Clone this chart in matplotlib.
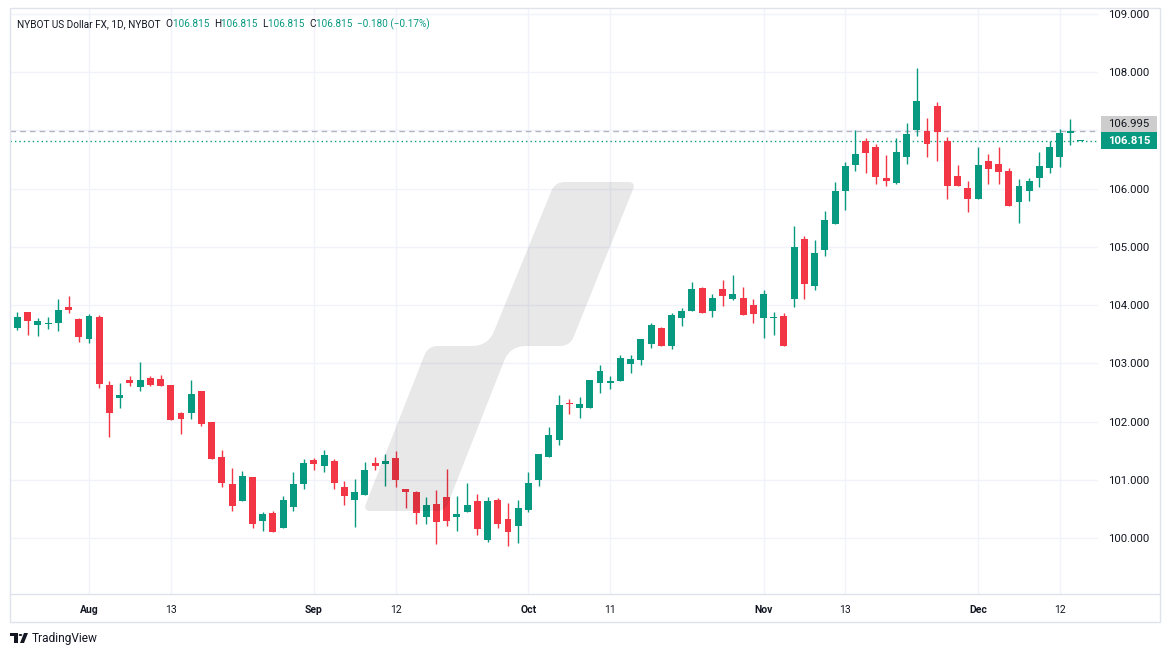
import matplotlib
matplotlib.use("Agg")
import matplotlib.pyplot as plt
import numpy as np
import pandas as pd
from matplotlib.patches import Polygon, Rectangle, Circle
from matplotlib.lines import Line2D

plt.rcParams['font.family'] = ['Roboto', 'DejaVu Sans']

# daily bars, NYBOT US Dollar FX
dates = pd.bdate_range('2024-07-22', '2024-12-16')
opens = [103.54, 103.61, 103.88, 103.66, 103.67, 103.70, 103.97, 103.76, 103.41, 103.79,
         102.63, 102.41, 102.71, 102.60, 102.75, 102.73, 102.63, 102.14, 102.15, 102.52,
         101.99, 101.39, 100.92, 100.63, 101.04, 100.29, 100.43, 100.17, 100.53, 100.93,
         101.34, 101.24, 101.32, 100.87, 100.65, 100.74, 101.29, 101.28, 101.38, 100.85,
         100.79, 100.37, 100.59, 100.71, 100.37, 100.44, 100.64, 99.96, 100.66, 100.33,
         100.20, 100.48, 100.99, 101.39, 101.69, 102.31, 102.23, 102.23, 102.66, 102.67,
         102.70, 102.99, 103.06, 103.33, 103.60, 103.30, 103.78, 103.90, 104.29, 103.89,
         104.27, 104.11, 104.12, 104.00, 103.78, 103.77, 103.81, 104.11, 105.13, 104.33,
         104.95, 105.39, 105.96, 106.40, 106.82, 106.71, 106.19, 106.09, 106.54, 107.00,
         106.98, 107.41, 106.81, 106.21, 106.01, 105.82, 106.47, 106.43, 106.31, 105.77,
         105.96, 106.18, 106.35, 106.54, 106.95, 106.815]
highs = [103.66, 103.88, 103.88, 103.78, 103.79, 104.10, 104.15, 103.78, 103.85, 103.83,
         102.70, 102.66, 102.78, 103.02, 102.78, 102.80, 102.63, 102.16, 102.71, 102.52,
         101.99, 101.51, 101.20, 101.16, 101.04, 100.44, 100.47, 100.72, 101.13, 101.36,
         101.37, 101.51, 101.36, 100.98, 101.01, 101.30, 101.39, 101.44, 101.49, 100.85,
         100.80, 100.70, 100.83, 101.18, 100.73, 100.94, 100.76, 100.71, 100.68, 100.61,
         100.66, 101.14, 101.44, 101.90, 102.45, 102.38, 102.42, 102.71, 102.97, 102.78,
         103.15, 103.15, 103.41, 103.70, 103.62, 103.86, 103.95, 104.39, 104.31, 104.19,
         104.43, 104.51, 104.31, 104.10, 104.26, 103.88, 103.86, 105.36, 105.18, 105.11,
         105.61, 106.11, 106.45, 107.00, 106.86, 106.76, 106.57, 106.86, 107.12, 108.07,
         107.22, 107.48, 106.89, 106.40, 106.13, 106.72, 106.59, 106.71, 106.36, 106.16,
         106.19, 106.62, 106.81, 107.03, 107.19, 106.815]
lows = [103.50, 103.58, 103.49, 103.47, 103.59, 103.56, 103.87, 103.37, 103.35, 102.58,
        101.73, 102.24, 102.61, 102.53, 102.61, 102.61, 102.02, 101.79, 102.04, 101.93,
        101.36, 100.87, 100.46, 100.63, 100.17, 100.13, 100.10, 100.17, 100.47, 100.84,
        101.17, 101.14, 100.84, 100.57, 100.19, 100.74, 101.17, 100.90, 100.87, 100.52,
        100.25, 100.25, 99.89, 100.21, 100.13, 100.44, 100.05, 99.93, 100.18, 99.87,
        99.91, 100.44, 100.90, 101.39, 101.60, 102.13, 102.06, 102.23, 102.49, 102.56,
        102.70, 102.83, 102.97, 103.26, 103.30, 103.25, 103.64, 103.90, 103.87, 103.80,
        103.99, 104.09, 103.83, 103.70, 103.44, 103.49, 103.29, 103.97, 104.11, 104.26,
        104.85, 105.39, 105.63, 106.30, 106.27, 106.08, 106.04, 106.08, 106.42, 106.90,
        106.54, 106.47, 105.82, 106.05, 105.60, 105.82, 106.08, 106.08, 105.70, 105.41,
        105.79, 106.03, 106.27, 106.37, 106.75, 106.815]
closes = [103.64, 103.79, 103.73, 103.73, 103.68, 103.91, 103.92, 103.46, 103.81, 102.65,
          102.15, 102.46, 102.67, 102.71, 102.63, 102.61, 102.03, 102.04, 102.47, 101.96,
          101.36, 100.94, 100.55, 101.06, 100.25, 100.41, 100.10, 100.65, 100.93, 101.29,
          101.27, 101.43, 100.95, 100.72, 100.79, 101.17, 101.24, 101.32, 100.99, 100.79,
          100.43, 100.56, 100.27, 100.30, 100.42, 100.56, 100.15, 100.63, 100.24, 100.10,
          100.52, 100.94, 101.44, 101.77, 102.28, 102.30, 102.31, 102.71, 102.87, 102.69,
          103.09, 103.07, 103.41, 103.65, 103.30, 103.83, 103.90, 104.27, 103.87, 104.12,
          104.16, 104.19, 103.83, 103.85, 104.19, 103.78, 103.30, 104.99, 104.37, 104.89,
          105.46, 105.95, 106.38, 106.60, 106.61, 106.20, 106.13, 106.62, 106.93, 107.51,
          106.76, 106.97, 106.05, 106.05, 105.82, 106.41, 106.34, 106.28, 105.70, 106.04,
          106.13, 106.38, 106.71, 106.96, 106.995, 106.815]
prev_close = 106.995
last_price = 106.815
tick_dates = ['2024-08-01', '2024-08-13', '2024-09-02', '2024-09-12', '2024-10-01',
              '2024-10-11', '2024-11-01', '2024-11-13', '2024-12-02', '2024-12-12']
tick_labels = ['Aug', '13', 'Sep', '12', 'Oct', '11', 'Nov', '13', 'Dec', '12']
price_ticks = [100, 101, 102, 103, 104, 105, 106, 107, 108, 109]

GREEN = '#089981'
RED = '#f23645'
TXT = '#131722'
GRID = '#f0f3fa'
BORDER = '#e0e3eb'

W, H = 1171, 657
def fx(px):
    return px / W
def fy(py):
    return 1 - py / H

fig = plt.figure(figsize=(W / 100, H / 100), dpi=100)
ax = fig.add_axes([fx(10), fy(594), fx(1098) - fx(10), fy(8) - fy(594)])

o = np.array(opens); hi = np.array(highs); lo = np.array(lows); c = np.array(closes)
x = np.arange(len(o))
cols = np.where(c >= o, GREEN, RED)

ax.vlines(x, lo, hi, colors=cols, linewidth=1, zorder=3)
ax.bar(x, np.maximum(np.abs(c - o), 0.018), bottom=np.minimum(o, c), width=0.68,
       color=cols, linewidth=0, zorder=3)

ax.axhline(prev_close, color='#b2b5be', linestyle=(0, (4, 3)), linewidth=1, zorder=2)
ax.axhline(last_price, color=GREEN, linestyle=(0, (1, 2.2)), linewidth=1, zorder=2)

ax.set_xlim(0.27, 106.73)
ax.set_ylim(99.04, 109.10)

tick_idx = [dates.get_loc(pd.Timestamp(d)) for d in tick_dates]
ax.set_xticks(tick_idx)
ax.set_xticklabels(tick_labels)
for t, lab in zip(ax.get_xticklabels(), tick_labels):
    if lab.isalpha():
        t.set_fontweight('bold')
ax.yaxis.tick_right()
ax.set_yticks(price_ticks)
# the 107 label sits under the price boxes, so it is left blank
ax.set_yticklabels(['' if abs(p - prev_close) < 0.3 else '%.3f' % p for p in price_ticks])
ax.tick_params(axis='x', length=0, pad=8, labelsize=7.5, colors=TXT)
ax.tick_params(axis='y', length=0, pad=7, labelsize=8.2, colors=TXT)
ax.grid(color=GRID, linewidth=1)
ax.set_axisbelow(True)
for s in ax.spines.values():
    s.set_visible(False)

# frame
fig.patches.append(Rectangle((fx(10), fy(622)), 1150 / W, 614 / H, fill=False,
                             edgecolor=BORDER, linewidth=1, transform=fig.transFigure))
fig.lines.append(Line2D([fx(10), fx(1160)], [fy(594), fy(594)], color=BORDER,
                        linewidth=1, transform=fig.transFigure))

# price labels on the scale
fig.patches.append(Rectangle((fx(1101), fy(132)), 56 / W, 16 / H, facecolor='#cdcdcd',
                             edgecolor='none', transform=fig.transFigure))
fig.text(fx(1129), fy(124), '%.3f' % prev_close, ha='center', va='center',
         fontsize=8.2, color=TXT)
fig.patches.append(Rectangle((fx(1101), fy(149)), 56 / W, 17 / H, facecolor=GREEN,
                             edgecolor='none', transform=fig.transFigure))
fig.text(fx(1129), fy(140.5), '%.3f' % last_price, ha='center', va='center',
         fontsize=8.2, color='white', fontweight='bold')

# header legend
renderer = fig.canvas.get_renderer()
parts = [('NYBOT US Dollar FX, 1D, NYBOT  ', TXT), ('O', TXT), ('106.815  ', GREEN),
         ('H', TXT), ('106.815  ', GREEN), ('L', TXT), ('106.815  ', GREEN),
         ('C', TXT), ('106.815  ', GREEN), ('\u22120.180 (\u22120.17%)', GREEN)]
xp = 17
for s, col in parts:
    t = fig.text(fx(xp), fy(24), s, ha='left', va='center', fontsize=7.2, color=col)
    xp += t.get_window_extent(renderer).width

# watermark
def rounded(pts, radii, n=8):
    out = []
    m = len(pts)
    for i in range(m):
        p0 = np.array(pts[i - 1], float); p1 = np.array(pts[i], float)
        p2 = np.array(pts[(i + 1) % m], float)
        r = radii[i]
        a = p1 + (p0 - p1) / np.linalg.norm(p0 - p1) * r
        b = p1 + (p2 - p1) / np.linalg.norm(p2 - p1) * r
        for t in np.linspace(0, 1, n):
            out.append((1 - t) ** 2 * a + 2 * (1 - t) * t * p1 + t ** 2 * b)
    return out

wm = [(363, 511), (428, 346), (488, 346), (555, 182), (636, 182), (570, 346), (510, 346), (445, 511)]
wr = [8, 10, 16, 10, 8, 10, 16, 8]
wpts = [(fx(p[0]), fy(p[1])) for p in rounded(wm, wr)]
fig.patches.append(Polygon(wpts, closed=True, facecolor=(0, 0, 0, 0.09), edgecolor='none',
                           transform=fig.transFigure, zorder=5))

# TradingView mark
fig.patches.append(Rectangle((fx(10), fy(636)), 8 / W, 3 / H, facecolor=TXT,
                             edgecolor='none', transform=fig.transFigure))
fig.patches.append(Rectangle((fx(14), fy(643)), 4 / W, 10 / H, facecolor=TXT,
                             edgecolor='none', transform=fig.transFigure))
fig.patches.append(Circle((fx(20.5), fy(635)), 1.8 / W, facecolor=TXT, edgecolor='none',
                          transform=fig.transFigure))
fig.patches.append(Polygon([(fx(20), fy(643)), (fx(24), fy(643)), (fx(28), fy(633)),
                            (fx(24), fy(633))], closed=True, facecolor=TXT, edgecolor='none',
                           transform=fig.transFigure))
fig.text(fx(32), fy(638.5), 'TradingView', ha='left', va='center', fontsize=8.6, color=TXT)

fig.savefig('out.png', dpi=100)
